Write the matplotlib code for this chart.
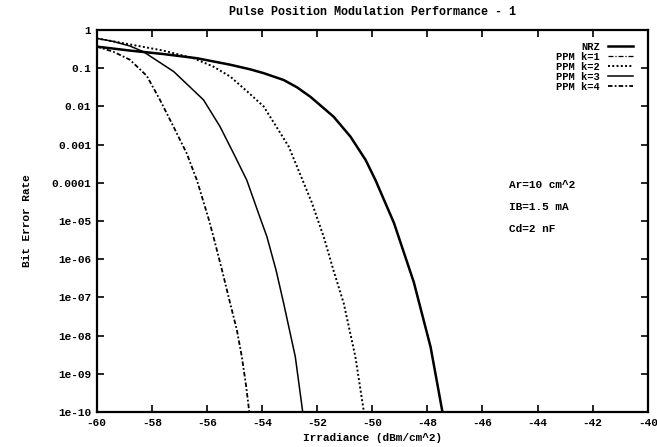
import numpy as np
import matplotlib
matplotlib.use("Agg")
import matplotlib.pyplot as plt
from matplotlib.ticker import FixedLocator, NullLocator

# values: irradiance (dBm/cm^2) and log10(BER)
nrz_x = [-60.0, -58.79, -57.58, -56.36, -55.15, -54.43, -53.94, -53.21, -52.73, -52.24,
         -51.4, -50.79, -50.24, -49.88, -49.21, -48.49, -47.88, -47.45]
nrz_log = [-0.435, -0.54, -0.63, -0.74, -0.91, -1.03, -1.13, -1.31, -1.5, -1.75,
           -2.27, -2.79, -3.4, -3.93, -5.05, -6.6, -8.3, -10.0]

# k=1 sits on top of the NRZ curve in the picture
k1_x = nrz_x
k1_log = nrz_log

k2_x = [-60.0, -59.15, -57.58, -56.48, -55.76, -55.15, -54.55, -53.94, -53.4, -53.03,
        -52.6, -52.2, -51.76, -51.4, -51.03, -50.61, -50.3]
k2_log = [-0.22, -0.33, -0.54, -0.74, -0.96, -1.22, -1.6, -2.0, -2.62, -3.05,
          -3.8, -4.5, -5.41, -6.3, -7.16, -8.55, -10.0]

k3_x = [-60.0, -59.4, -58.79, -58.3, -57.2, -56.12, -55.52, -55.03, -54.55, -54.06,
        -53.82, -53.49, -53.21, -52.79, -52.52]
k3_log = [-0.22, -0.30, -0.42, -0.57, -1.09, -1.83, -2.53, -3.23, -3.93, -4.93,
          -5.41, -6.28, -7.16, -8.55, -10.0]

k4_x = [-60.0, -59.39, -58.79, -58.18, -57.7, -57.21, -56.73, -56.36, -55.94, -55.76,
        -55.45, -55.15, -54.91, -54.73, -54.57, -54.46]
k4_log = [-0.435, -0.57, -0.78, -1.2, -1.83, -2.53, -3.23, -3.93, -4.93, -5.41,
          -6.28, -7.16, -7.85, -8.55, -9.34, -10.0]

x_ticks = list(range(-60, -39, 2))
y_ticks = [1, 0.1, 0.01, 0.001, 0.0001, 1e-5, 1e-6, 1e-7, 1e-8, 1e-9, 1e-10]
y_labels = ["1", "0.1", "0.01", "0.001", "0.0001", "1e-05", "1e-06", "1e-07", "1e-08", "1e-09", "1e-10"]
notes = ["Ar=10 cm^2", "IB=1.5 mA", "Cd=2 nF"]

plt.rcParams["font.family"] = ["Liberation Mono", "DejaVu Sans Mono"]
plt.rcParams["font.weight"] = "bold"

fig = plt.figure(figsize=(6.57, 4.47), dpi=100)
ax = fig.add_axes([0.147, 0.078, 0.839, 0.855])


def ber(vals):
    return [10.0 ** v for v in vals]


ax.plot(nrz_x, ber(nrz_log), color="black", lw=1.8, label="NRZ")
ax.plot(k1_x, ber(k1_log), color="black", lw=0.9, ls=(0, (4, 1.5, 1, 1.5)), label="PPM k=1")
ax.plot(k2_x, ber(k2_log), color="black", lw=1.4, ls=(0, (1, 1.2)), label="PPM k=2")
ax.plot(k3_x, ber(k3_log), color="black", lw=1.1, label="PPM k=3")
ax.plot(k4_x, ber(k4_log), color="black", lw=1.3, ls=(0, (2.5, 1.2, 1, 1.2)), label="PPM k=4")

ax.set_yscale("log")
ax.set_xlim(-60, -40)
ax.set_ylim(1e-10, 1)
ax.xaxis.set_major_locator(FixedLocator(x_ticks))
ax.set_xticklabels([str(t) for t in x_ticks])
ax.yaxis.set_major_locator(FixedLocator(y_ticks))
ax.yaxis.set_minor_locator(NullLocator())
ax.set_yticklabels(y_labels)
ax.tick_params(direction="in", top=True, right=True, length=5, width=1.2,
               labelsize=8, pad=4)
for s in ax.spines.values():
    s.set_linewidth(1.6)

ax.set_title("Pulse Position Modulation Performance - 1", fontsize=8.5,
             fontweight="bold", pad=11)
ax.set_xlabel("Irradiance (dBm/cm^2)", fontsize=8, fontweight="bold", labelpad=4)
ax.set_ylabel("Bit Error Rate", fontsize=8, fontweight="bold", labelpad=14)

for i, n in enumerate(notes):
    ax.text(-45.05, 10 ** (-4.06 - 0.58 * i), n, fontsize=8, fontweight="bold",
            va="center", ha="left")

ax.legend(loc="upper right", bbox_to_anchor=(0.985, 0.985), frameon=False,
          markerfirst=False, handlelength=2.4, handletextpad=0.8,
          labelspacing=0.0, fontsize=7.5, borderaxespad=0.2)

fig.savefig("out.png", dpi=100)
